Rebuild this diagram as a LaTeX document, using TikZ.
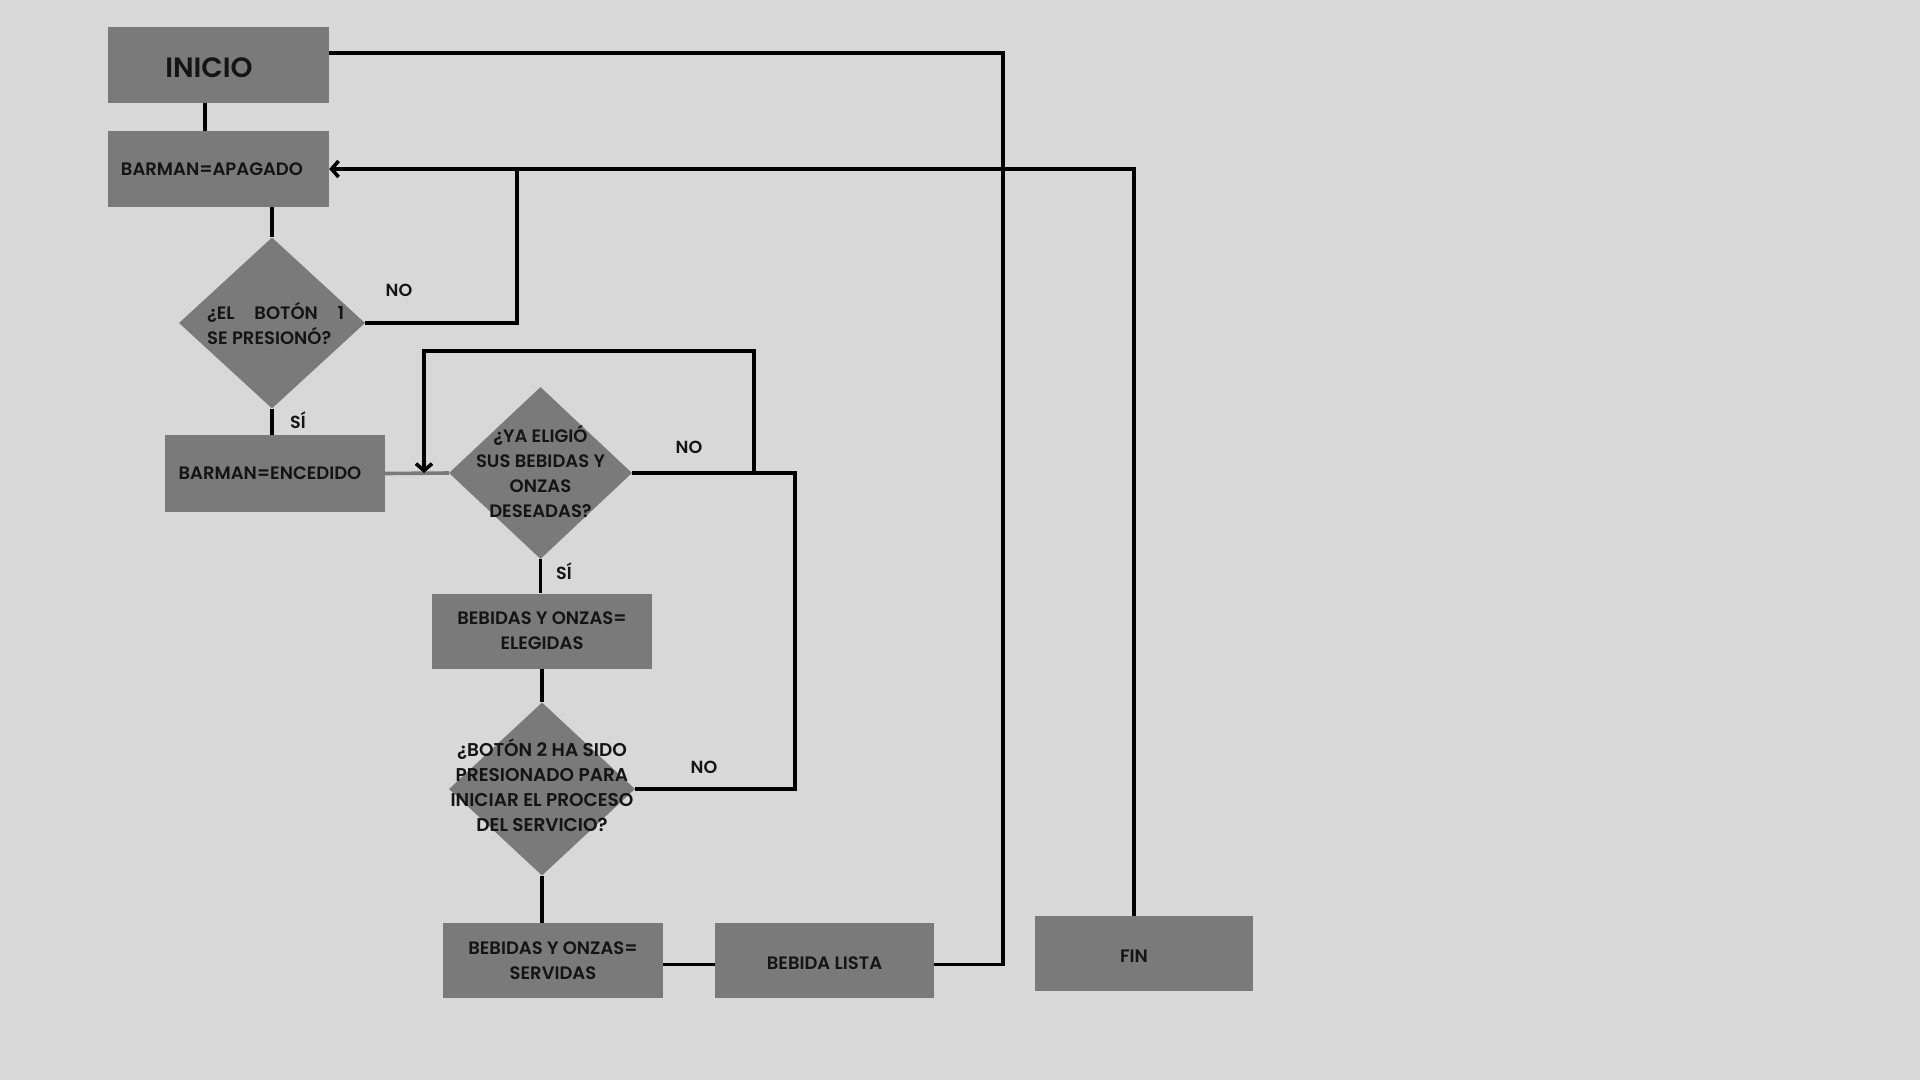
\documentclass[tikz,border=0pt]{standalone}
\usepackage{fontspec}
\setmainfont{Poppins}[UprightFont={Poppins SemiBold},BoldFont={Poppins Bold}]
\usetikzlibrary{arrows.meta,shapes.geometric,calc}
\definecolor{paper}{HTML}{D8D8D8}
\definecolor{boxgray}{HTML}{7A7A7A}
\definecolor{ink}{HTML}{141414}
\begin{document}
\begin{tikzpicture}[x=1pt,y=-1pt,
  box/.style={fill=boxgray,draw=none,inner sep=0pt,text=ink,align=center,
    font=\fontsize{18}{25}\selectfont},
  dec/.style={diamond,fill=boxgray,draw=none,inner sep=0pt},
  dtext/.style={text=ink,align=center,font=\fontsize{18}{25}\selectfont},
  lbl/.style={text=ink,font=\fontsize{17.5}{20}\selectfont},
  conn/.style={draw=black,line width=3.6pt},
  arr/.style={conn,-{Straight Barb[length=7pt,width=16pt]}}]
\fill[paper] (0,0) rectangle (1920,1080);
\useasboundingbox (0,0) rectangle (1920,1080);

% boxes
\node[box,minimum width=221pt,minimum height=76pt] (inicio) at (218.5,65) {};
\node[text=ink,font=\fontsize{28}{28}\selectfont,inner sep=0pt] (tinicio) at (209,68) {INICIO};
\node[box,minimum width=221pt,minimum height=76pt] (apagado) at (218.5,169) {\hspace*{-13pt}BARMAN=APAGADO};
\node[box,minimum width=220pt,minimum height=77pt] (encedido) at (275,473.5) {\hspace*{-10pt}BARMAN=ENCEDIDO};
\node[box,minimum width=220pt,minimum height=75pt] (elegidas) at (542,631) {BEBIDAS Y ONZAS=\\ELEGIDAS};
\node[box,minimum width=220pt,minimum height=75pt] (servidas) at (553,960.5) {BEBIDAS Y ONZAS=\\SERVIDAS};
\node[box,minimum width=219pt,minimum height=75pt] (lista) at (824.5,960.5) {};
\node[text=ink,font=\fontsize{18}{25}\selectfont,inner sep=0pt] (tlista) at (824.5,963) {BEBIDA LISTA};
\node[box,minimum width=218pt,minimum height=75pt] (fin) at (1144,953.5) {};
\node[text=ink,font=\fontsize{18}{25}\selectfont,inner sep=0pt] (tfin) at (1134,956) {FIN};

% decisions
\node[dec,minimum width=186pt,minimum height=171pt] (d1) at (272,323) {};
\node[dtext,align=left,anchor=west,inner sep=0pt] (t1) at (207,323) {\makebox[137pt][s]{¿EL BOTÓN 1}\\SE PRESIONÓ?};
\node[dec,minimum width=183pt,minimum height=172pt] (d2) at (540.5,473) {};
\node[dtext] (t2) at (540.5,471) {¿YA ELIGIÓ\\SUS BEBIDAS Y\\ONZAS\\DESEADAS?};
\node[dec,minimum width=186pt,minimum height=173pt] (d3) at (542,789) {};
\node[dtext,font=\fontsize{18.5}{25}\selectfont] (t3) at (542,785.5) {¿BOTÓN 2 HA SIDO\\PRESIONADO PARA\\INICIAR EL PROCESO\\DEL SERVICIO?};

% labels
\node[lbl] (no1) at (399,290) {NO};
\node[lbl] (si1) at (298,420) {SÍ};
\node[lbl] (no2) at (689,447) {NO};
\node[lbl] (si2) at (564,571) {SÍ};
\node[lbl] (no3) at (704,767) {NO};

% helper coordinates
\coordinate (c1) at (517,169);
\coordinate (l1) at (754,351);
\coordinate (l2) at (424,351);
\coordinate (l3) at (795,473);
\coordinate (r1) at (1003,53);

% connectors
\draw[conn] ($(inicio.south)+(-13.5,0)$) -- ($(apagado.north)+(-13.5,0)$);
\draw[conn] (apagado.south -| d1.north) -- (d1.north);
\draw[conn] (d1.east) -| (c1);
\draw[arr] ($(fin.north)+(-10,0)$) |- (apagado.east);
\draw[conn] (d1.south) -- (d1.south |- encedido.north);
\draw[draw=boxgray,line width=3.6pt] (encedido.east) -- (d2.west);
\draw[arr] (d2.east) -| (l1) -- (l2) -- (l2 |- d2.west);
\draw[conn] (d3.east) -| (l3) -- (d2.east);
\draw[conn] (d2.south) -- (d2.south |- elegidas.north);
\draw[conn] (elegidas.south -| d3.north) -- (d3.north);
\draw[conn] (d3.south) -- (d3.south |- servidas.north);
\draw[conn] ($(servidas.east)+(0,4)$) -- ($(lista.west)+(0,4)$);
\draw[conn] ($(lista.east)+(0,4)$) -| (r1) -- (r1 -| inicio.east);
\end{tikzpicture}
\end{document}
